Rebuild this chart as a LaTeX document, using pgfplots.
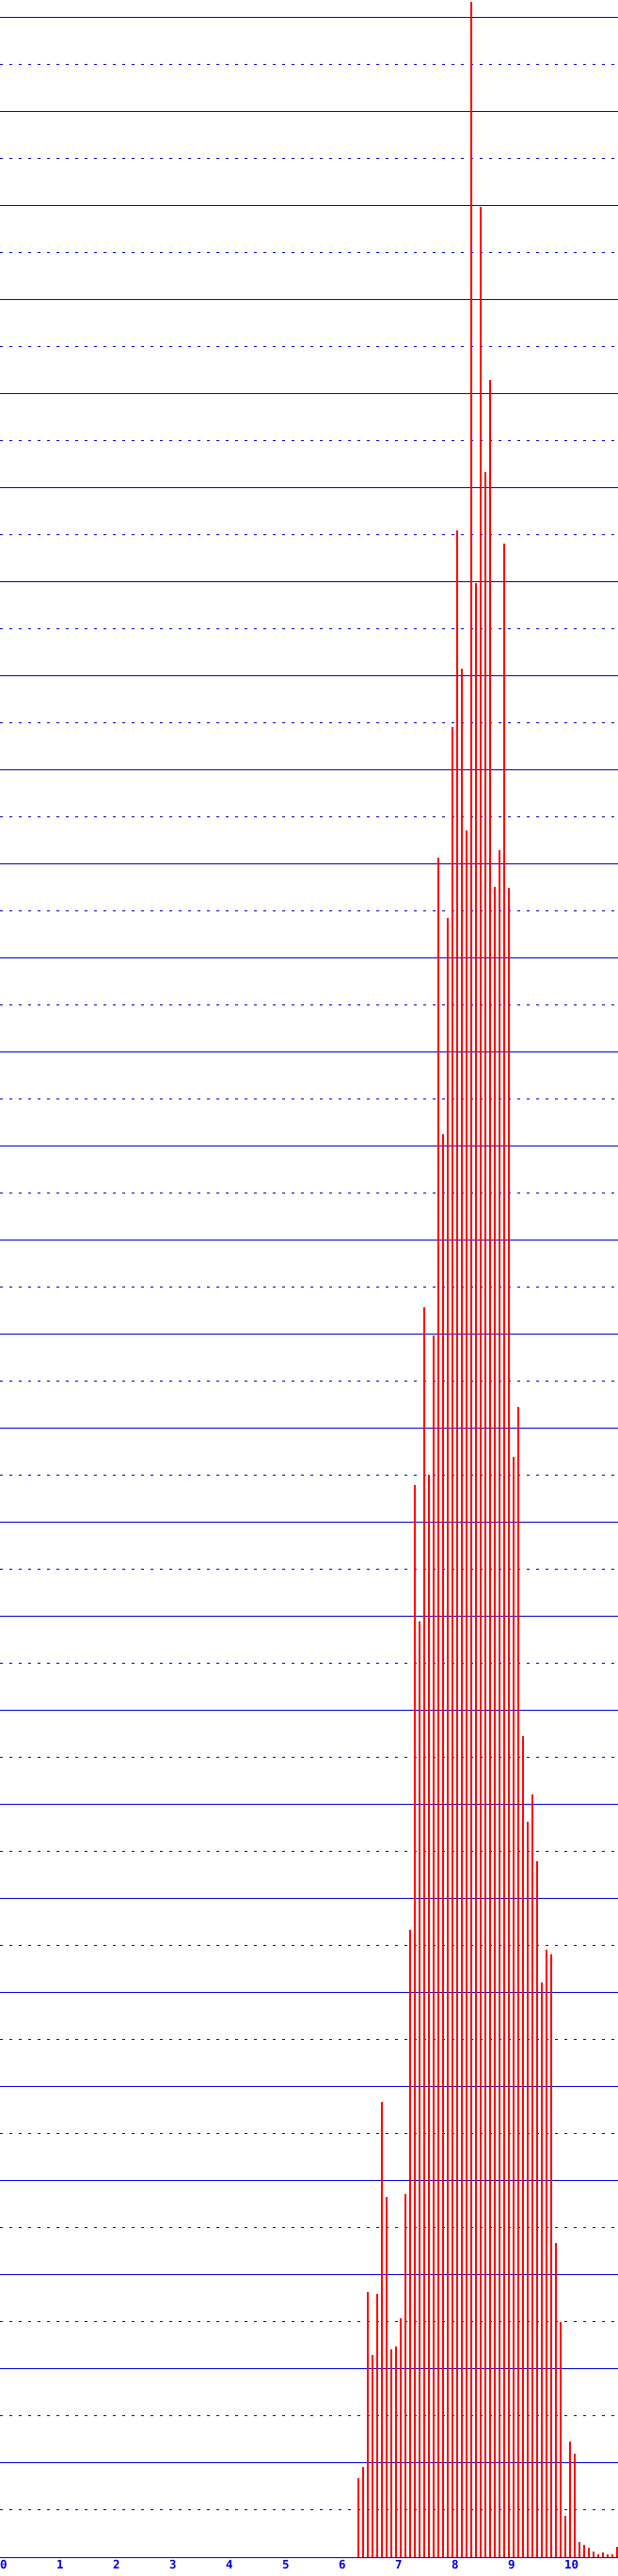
\documentclass[border=0pt]{standalone}
\usepackage{fontspec}
\setmonofont{DejaVu Sans Mono}
\usepackage{pgfplots}
\usepackage{pgfplotstable}
\pgfplotsset{compat=1.18}

\definecolor{gridblue}{RGB}{0,0,215}
\definecolor{barred}{RGB}{255,0,0}

% x = bin position, y = count (grid line every 100)
\pgfplotstableread{
x y
6.350 84
6.433 96
6.517 282
6.600 215
6.683 280
6.767 484
6.850 383
6.933 221
7.017 224
7.100 254
7.183 386
7.267 667
7.350 1140
7.433 995
7.517 1329
7.600 1151
7.683 1299
7.767 1807
7.850 1513
7.933 1743
8.017 1946
8.100 2155
8.183 2008
8.267 1836
8.350 2717
8.433 2099
8.517 2499
8.600 2217
8.683 2315
8.767 1776
8.850 1815
8.933 2141
9.017 1775
9.100 1170
9.183 1223
9.267 873
9.350 782
9.433 811
9.517 740
9.600 611
9.683 646
9.767 641
9.850 334
9.933 250
10.017 44
10.100 123
10.183 110
10.267 16
10.350 13
10.433 10
10.517 6
10.600 3
10.683 5
10.767 3
10.850 3
10.933 11
}\histdata

\begin{document}
\begin{tikzpicture}
\begin{axis}[
    name=ax,
    scale only axis,
    width=657bp,
    height=2719bp,
    xmin=0, xmax=10.95,
    ymin=0, ymax=2719,
    axis line style={draw=none},
    xtick={0,1,...,10},
    xticklabels={0,1,2,3,4,5,6,7,8,9,10},
    xticklabel style={anchor=north west, inner sep=0pt, yshift=-3bp,
        text=gridblue, font=\fontsize{12.5}{13}\selectfont\ttfamily\bfseries},
    ytick={0,100,...,2700},
    minor ytick={50,150,...,2650},
    yticklabels={},
    major tick length=0pt,
    minor tick length=0pt,
    ymajorgrids,
    yminorgrids,
    major grid style={gridblue, line width=1bp},
    minor grid style={gridblue, line width=1bp, dash pattern=on 3bp off 7bp},
    clip=false,
]
\addplot[ycomb, barred, line width=2bp, mark=none] table[x=x, y=y] {\histdata};
\end{axis}
\pgfresetboundingbox
\path[use as bounding box] ([yshift=-20bp]ax.south west) rectangle (ax.north east);
\end{tikzpicture}
\end{document}
